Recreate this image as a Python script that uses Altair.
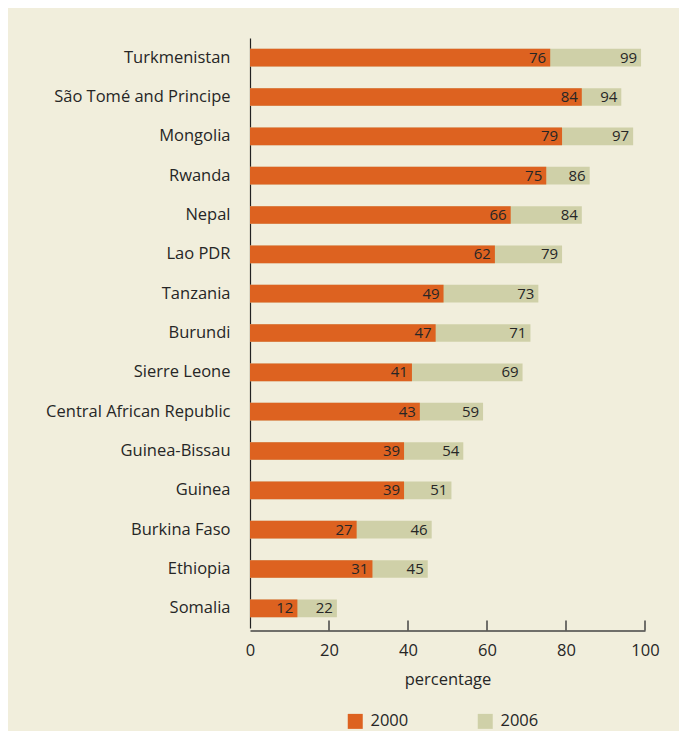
import altair as alt
import pandas as pd

countries = ["Turkmenistan", "São Tomé and Principe", "Mongolia", "Rwanda", "Nepal",
             "Lao PDR", "Tanzania", "Burundi", "Sierre Leone", "Central African Republic",
             "Guinea-Bissau", "Guinea", "Burkina Faso", "Ethiopia", "Somalia"]
v2000 = [76, 84, 79, 75, 66, 62, 49, 47, 41, 43, 39, 39, 27, 31, 12]
v2006 = [99, 94, 97, 86, 84, 79, 73, 71, 69, 59, 54, 51, 46, 45, 22]
years = ["2000", "2006"]
ticks = [20, 40, 60, 80, 100]

rows = []
for c, v in zip(countries, v2006):
    rows.append({"country": c, "year": "2006", "value": v})
for c, v in zip(countries, v2000):
    rows.append({"country": c, "year": "2000", "value": v})
df = pd.DataFrame(rows)

FONT = "Open Sans"
TXT = "#262626"
W, H = 395, 590

y_enc = alt.Y("country:N", sort=countries, title=None,
              scale=alt.Scale(paddingInner=0.55, paddingOuter=0.275),
              axis=alt.Axis(ticks=False, labelPadding=20, labelFontSize=16.5, labelLimit=400,
                            labelColor=TXT, labelFont=FONT, domainColor="#222222",
                            domainWidth=1.2))
x_enc = alt.X("value:Q", stack=None, title="percentage",
              scale=alt.Scale(domain=[0, 100], nice=False),
              axis=alt.Axis(values=[0, 20, 40, 60, 80, 100], ticks=False, grid=False,
                            labelFlush=False, offset=2.5, labelPadding=12,
                            labelFontSize=16.5, labelColor=TXT,
                            labelFont=FONT, titleFont=FONT, titleFontSize=16.5,
                            titleFontWeight="normal", titleColor=TXT, titlePadding=12,
                            domainColor="#444444", domainWidth=1.5))

bars = alt.Chart(df).mark_bar().encode(
    x=x_enc, y=y_enc,
    color=alt.Color("year:N", scale=alt.Scale(domain=years, range=["#dd6220", "#cfd0a8"]),
                    legend=alt.Legend(title=None, orient="none", legendX=97, legendY=675,
                                      direction="horizontal", symbolType="square",
                                      symbolSize=225, symbolStrokeWidth=0,
                                      symbolOpacity=1, labelFontSize=16.5, labelFont=FONT,
                                      labelColor=TXT, labelOffset=7, columnPadding=68)),
    order=alt.Order("year:N", sort="descending"),
)

labels = alt.Chart(df).mark_text(align="right", dx=-4, baseline="middle",
                                 fontSize=15, font=FONT, color=TXT).encode(
    x=alt.X("value:Q", stack=None), y=alt.Y("country:N", sort=countries),
    text="value:Q",
)

tick_df = pd.DataFrame({"t": ticks})
tick_marks = alt.Chart(tick_df).mark_rule(color="#444444", strokeWidth=1.5).encode(
    x="t:Q", y=alt.value(H + 2.5 - 10), y2=alt.value(H + 2.5),
)

chart = alt.layer(bars, labels, tick_marks).properties(
    width=W, height=H,
    autosize=alt.AutoSizeParams(type="none"),
    padding={"left": 242, "top": 30, "right": 34, "bottom": 103},
    background="#f1eedc",
).configure_view(stroke=None)

chart.save("out.html", embed_options={"renderer": "svg", "actions": False})
